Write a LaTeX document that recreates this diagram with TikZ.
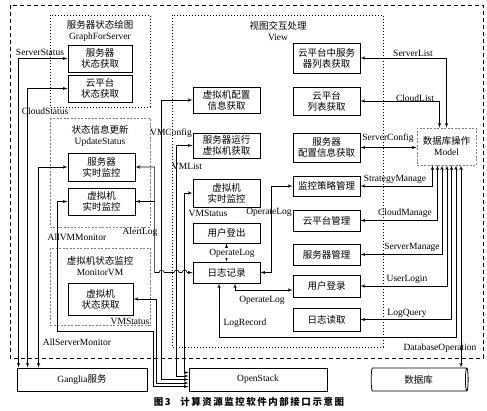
\documentclass[tikz,border=0pt]{standalone}
\usepackage{fontspec}
\setmainfont{Liberation Serif}
\newfontfamily\cjk{Noto Sans CJK SC}
\newfontfamily\cjkcap[LetterSpace=16]{Noto Sans CJK SC}
\usetikzlibrary{arrows,shapes.geometric}
\newcommand\fs{\fontsize{9.5}{11}\selectfont}
\tikzstyle{box}=[draw,line width=0.8pt,fill=white,align=center,inner sep=1pt,minimum width=67pt,font=\cjk\fs]
\tikzstyle{grp}=[draw,line width=0.6pt]
\tikzstyle{link}=[<->,>=latex',draw,line width=0.6pt]
\tikzstyle{lbl}=[inner sep=0.5pt,font=\fs]
\tikzstyle{ttl}=[align=center,inner sep=0pt,font=\fs]

\begin{document}
\begin{tikzpicture}[x=1pt,y=-1pt]
  \useasboundingbox (0,0) rectangle (487,410);
  \draw[grp,dash pattern=on 4pt off 3pt] (10,5) rectangle (483,358);
  \draw[grp,dash pattern=on 1pt off 2pt] (50,15) rectangle (150,107);
  \draw[grp,gray,dash pattern=on 2pt off 1.5pt] (50,118) rectangle (150,227);
  \draw[grp,gray,dash pattern=on 2pt off 1.5pt] (50,248) rectangle (150,325);
  \draw[grp,dash pattern=on 1pt off 2pt] (172,15) rectangle (383,347);

  \node[ttl] (tgfs) at (100,31) {{\cjk 服务器状态绘图}\\GraphForServer};
  \node[ttl] (tups) at (100,136) {{\cjk 状态信息更新}\\UpdateStatus};
  \node[ttl] (tmvm) at (100,266) {{\cjk 虚拟机状态监控}\\MonitorVM};
  \node[ttl] (tview) at (278,31) {{\cjk 视图交互处理}\\View};

  \node[box,minimum width=64pt,minimum height=27pt] (srvst) at (100,58.5) {服务器\\状态获取};
  \node[box,minimum width=64pt,minimum height=27pt] (cldst) at (100,88.5) {云平台\\状态获取};
  \node[box,minimum height=28pt] (srvmon) at (101.5,167) {服务器\\实时监控};
  \node[box,minimum height=27pt] (vmmon) at (101.5,201.5) {虚拟机\\实时监控};
  \node[box,minimum width=65pt,minimum height=32pt] (vmst) at (100.5,299) {虚拟机\\状态获取};

  \node[box,minimum height=26pt] (vmcfg) at (226.5,100) {虚拟机配置\\信息获取};
  \node[box,minimum height=25pt] (vmlist) at (226.5,145.5) {服务器运行\\虚拟机获取};
  \node[box,minimum height=28pt] (vvmmon) at (226.5,193) {虚拟机\\实时监控};
  \node[box,minimum height=20pt] (logout) at (226.5,233) {用户登出};
  \node[box,minimum height=21pt] (logrec) at (226.5,272.5) {日志记录};

  \node[box,minimum height=30pt] (srvlist) at (326.5,58) {云平台中服务\\器列表获取};
  \node[box,minimum height=28pt] (cldlist) at (326.5,101) {云平台\\列表获取};
  \node[box,minimum height=29pt] (srvcfg) at (326.5,147.5) {服务器\\配置信息获取};
  \node[box,minimum height=20pt] (strat) at (326.5,186) {监控策略管理};
  \node[box,minimum height=21pt] (cldmgr) at (326.5,220.5) {云平台管理};
  \node[box,minimum height=21pt] (srvmgr) at (326.5,254.5) {服务器管理};
  \node[box,minimum height=22pt] (login) at (326.5,286) {用户登录};
  \node[box,minimum height=23pt] (logread) at (326.5,319.5) {日志读取};

  \node[box,draw=gray,dash pattern=on 2pt off 1.5pt,line width=0.6pt,minimum width=59pt,minimum height=37pt,font=\fs] (model) at (446.5,146.5) {{\cjk 数据库操作}\\Model};

  \node[box,minimum width=130pt,minimum height=23pt,font=\fs] (ganglia) at (82,379.5) {Ganglia{\cjk 服务}};
  \node[box,minimum width=138pt,minimum height=23pt,font=\fs] (openstack) at (258,379.5) {OpenStack};
  \node[box,cylinder,shape aspect=0.25,minimum height=97pt,minimum width=23pt] (db) at (418.5,379.5) {数据库};

  \draw[link] (srvst.west) -| ([xshift=2pt]ganglia.north west);
  \draw[link] (cldst.west) -| ([xshift=11pt]ganglia.north west);
  \draw[link] (srvmon.west) -| ([xshift=22pt]ganglia.north west);

  \coordinate (c1) at (153,331);
  \draw[link] (vmmon.west) -- ++(-10,0) |- (c1) |- ([yshift=-7pt]openstack.west);
  \draw[link] (vmst.east) -- ++(23,0) |- ([yshift=-3.5pt]openstack.west);
  \draw[link] (vmcfg.west) -- ++(-31,0) |- (openstack.west);
  \draw[link] (vmlist.west) -- ++(-16,0) |- ([yshift=3.5pt]openstack.west);
  \draw[link] (vvmmon.west) -- ++(-8,0) |- ([yshift=7pt]openstack.west);

  \draw[link] (logrec.west) -- ++(-5.5,0) arc[start angle=0,end angle=180,radius=2.5pt]
    -- ++(-3,0) arc[start angle=0,end angle=180,radius=2.5pt]
    -- ++(-10,0) arc[start angle=0,end angle=180,radius=2.5pt]
    -- ++(-4.5,0) |- (srvmon.east);
  \draw[link,<-] (vmmon.east) -- ++(20,0);

  \draw[link] (logout.south) -- (logrec.north);
  \draw[link] (strat.west) -- ++(-21,0) |- (logrec.east);
  \draw[link] ([yshift=-4pt]login.west) -| ([xshift=8.5pt]logrec.south);
  \draw[link] ([xshift=9.5pt]model.south) |- ([xshift=-7.5pt,yshift=-54pt]logrec.south) -- ([xshift=-7.5pt]logrec.south);

  \draw[link] (srvlist.east) -| (model.north);
  \draw[link] (cldlist.east) -| ([xshift=-7pt]model.north);
  \draw[link] (srvcfg.east) -- (srvcfg.east -| model.west);
  \draw[link] (strat.east) -| ([xshift=-14pt]model.south);
  \draw[link] (cldmgr.east) -| ([xshift=-9pt]model.south);
  \draw[link] (srvmgr.east) -| ([xshift=-4.5pt]model.south);
  \draw[link] (login.east) -| ([xshift=0.5pt]model.south);
  \draw[link] (logread.east) -| ([xshift=5pt]model.south);
  \coordinate (dbop) at ([xshift=14.5pt]model.south);
  \draw[link] (dbop) -- (dbop |- db.north);

  \node[lbl] (l1) at (40,52) {ServerStatus};
  \node[lbl] (l2) at (45,111) {CloudStatus};
  \node[lbl] (l3) at (77,237) {AllVMMonitor};
  \node[lbl] (l4) at (140,232) {AlertLog};
  \node[lbl] (l5) at (77,342) {AllServerMonitor};
  \node[lbl,fill=white] (l6) at (130,321) {VMStatus};
  \node[lbl] (l7) at (171,133) {VMConfig};
  \node[lbl] (l8) at (187,166) {VMList};
  \node[lbl] (l9) at (208,213) {VMStatus};
  \node[lbl,fill=white] (l10) at (232,253) {OperateLog};
  \node[lbl] (l11) at (269,212) {OperateLog};
  \node[lbl] (l12) at (262,300) {OperateLog};
  \node[lbl] (l13) at (245,323) {LogRecord};
  \node[lbl] (l14) at (413,53) {ServerList};
  \node[lbl] (l15) at (415,98) {CloudList};
  \node[lbl] (l16) at (388,138) {ServerConfig};
  \node[lbl] (l17) at (395,179) {StrategyManage};
  \node[lbl] (l18) at (405,213) {CloudManage};
  \node[lbl] (l19) at (412,247) {ServerManage};
  \node[lbl] (l20) at (407,279) {UserLogin};
  \node[lbl] (l21) at (407,313) {LogQuery};
  \node[lbl] (l22) at (440,348) {DatabaseOperation};

  \node[font=\cjkcap\bfseries\fontsize{9.5}{11}\selectfont] (cap) at (249,402) {图3\quad 计算资源监控软件内部接口示意图};
\end{tikzpicture}
\end{document}
